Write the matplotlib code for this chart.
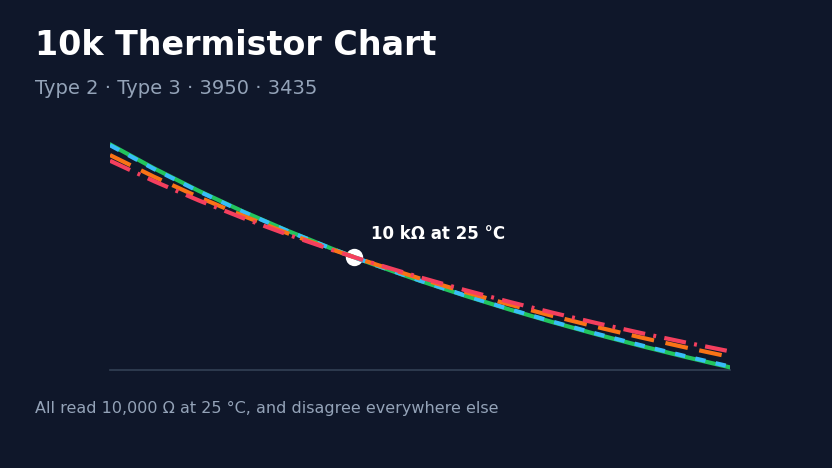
import matplotlib
matplotlib.use("Agg")
import matplotlib.pyplot as plt

# temperatures in degC and resistance in ohm
temps = [-30, -20, -10, 0, 10, 20, 25, 30, 40, 50, 60, 70, 80, 90, 100, 110]
type2 = [208000, 108570, 59560, 34140, 20360, 12570, 10000, 8016, 5260, 3542, 2444, 1722, 1238, 906, 674.5, 509.8]
b3950 = [203300, 106640, 58770, 33830, 20250, 12550, 10000, 8029, 5286, 3569, 2469, 1745, 1258, 922.5, 688.2, 521.3]
type3 = [155900, 86560, 50270, 30380, 19030, 12300, 10000, 8186, 5591, 3909, 2794, 2035, 1510, 1138, 871.6, 676.4]
b3435 = [133900, 76830, 45980, 28570, 18360, 12160, 10000, 8277, 5774, 4117, 2997, 2222, 1676, 1284, 997.2, 785.0]

BG = "#0f172a"
W, H = 832, 468

fig = plt.figure(figsize=(W / 100, H / 100), dpi=100, facecolor=BG)
# axes box in pixels: x 110..730, y 140..370
ax = fig.add_axes([110 / W, (H - 370) / H, 620 / W, 230 / H])
ax.set_facecolor(BG)
ax.set_yscale("log")
ax.set_xlim(-30, 110)
ax.set_ylim(475, 234000)

ax.plot(temps, type2, color="#22c55e", lw=3, solid_capstyle="round", zorder=3)
ax.plot(temps, b3950, color="#38bdf8", lw=3, dashes=(2.5, 2.5), zorder=4)
ax.plot(temps, type3, color="#f97316", lw=3, dashes=(5.5, 2.8), zorder=4)
ax.plot(temps, b3435, color="#f43f5e", lw=3, dashes=(5.3, 2, 0.7, 2), zorder=5)

# the point where they all agree
ax.plot([25], [10000], "o", color="white", ms=12.5, mec="none", zorder=2)
ax.annotate("10 k\u03a9 at 25 \u00b0C", xy=(25, 10000), xytext=(17, 14), textcoords="offset pixels",
            color="white", fontsize=12, fontweight="bold", va="bottom", ha="left")

for s in ["top", "right", "left"]:
    ax.spines[s].set_visible(False)
ax.spines["bottom"].set_color("#334155")
ax.spines["bottom"].set_linewidth(1.2)
ax.set_xticks([])
ax.set_yticks([])
ax.minorticks_off()
ax.tick_params(which="both", length=0, labelleft=False, labelbottom=False)

fig.text(35 / W, 1 - 55 / H, "10k Thermistor Chart", color="white", fontsize=24,
         fontweight="bold", va="baseline")
fig.text(35 / W, 1 - 94 / H, "Type 2 \u00b7 Type 3 \u00b7 3950 \u00b7 3435", color="#94a3b8",
         fontsize=14, va="baseline")
fig.text(35 / W, 1 - 413 / H, "All read 10,000 \u03a9 at 25 \u00b0C, and disagree everywhere else",
         color="#94a3b8", fontsize=11.5, va="baseline")

fig.savefig("out.png", dpi=100, facecolor=BG)
